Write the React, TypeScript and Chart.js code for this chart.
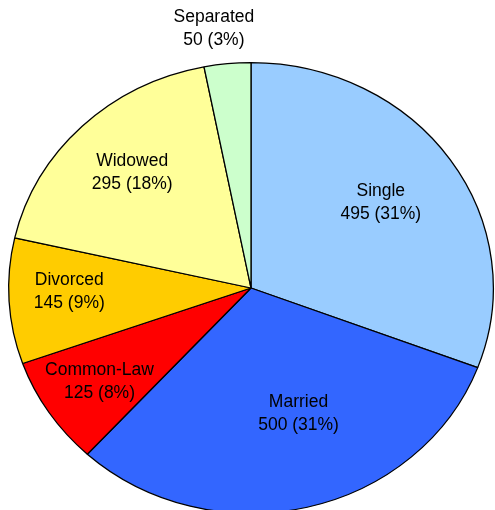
import React, { useEffect, useRef } from "react";
import { Chart, registerables } from "chart.js";

Chart.register(...registerables);

const categories = ["Single", "Married", "Common-Law", "Divorced", "Widowed", "Separated"];
const counts = [495, 500, 125, 145, 295, 50];
const colors = ["#99CCFF", "#3366FF", "#FF0000", "#FFCC00", "#FFFF99", "#CCFFCC"];
// label placement styling: radial fraction and angle nudge (degrees)
const labelRadius = [0.655, 0.59, 0.75, 0.75, 0.71, 1.16];
const labelNudge = [-0.5, -6, 0, 2, 0.5, -2];

const X_STRETCH = 243 / 226;

export default function App() {
  const ref = useRef<HTMLCanvasElement>(null);
  useEffect(() => {
    const canvas = ref.current!;
    const total = counts.reduce((a, b) => a + b, 0);
    const stretch = {
      id: "stretch",
      beforeDatasetsDraw(chart: any) {
        const meta = chart.getDatasetMeta(0);
        const a = meta.data[0];
        const ctx = chart.ctx;
        ctx.save();
        ctx.translate(a.x, a.y);
        ctx.scale(X_STRETCH, 1);
        ctx.translate(-a.x, -a.y);
      },
      afterDatasetsDraw(chart: any) {
        chart.ctx.restore();
      },
    };
    const labels = {
      id: "labels",
      afterDraw(chart: any) {
        const ctx = chart.ctx;
        const meta = chart.getDatasetMeta(0);
        ctx.save();
        ctx.font = '17.5px "Liberation Sans", Arial, sans-serif';
        ctx.fillStyle = "#000";
        ctx.textAlign = "center";
        ctx.textBaseline = "middle";
        meta.data.forEach((arc: any, i: number) => {
          const mid = (arc.startAngle + arc.endAngle) / 2 + (labelNudge[i] * Math.PI) / 180;
          const r = arc.outerRadius * labelRadius[i];
          const x = arc.x + Math.cos(mid) * r * X_STRETCH;
          const y = arc.y + Math.sin(mid) * r;
          const pct = Math.round((counts[i] / total) * 100);
          ctx.fillText(categories[i], x, y - 11.5);
          ctx.fillText(`${counts[i]} (${pct}%)`, x, y + 11.5);
        });
        ctx.restore();
      },
    };
    const chart = new Chart(canvas, {
      type: "pie",
      data: {
        labels: categories,
        datasets: [
          {
            data: counts,
            backgroundColor: colors,
            borderColor: "#000",
            borderWidth: 1.2,
          },
        ],
      },
      options: {
        responsive: false,
        animation: false,
        events: [],
        layout: { padding: { top: 62, bottom: 26, left: 25, right: 18 } },
        plugins: { legend: { display: false }, tooltip: { enabled: false } },
      },
      plugins: [stretch, labels],
    });
    return () => chart.destroy();
  }, []);
  return (
    <div
      style={{
        position: "absolute",
        left: 0,
        top: 0,
        width: 495,
        height: 510,
        overflow: "hidden",
        background: "#fff",
      }}
    >
      <canvas ref={ref} width={495} height={540} style={{ display: "block" }} />
    </div>
  );
}
